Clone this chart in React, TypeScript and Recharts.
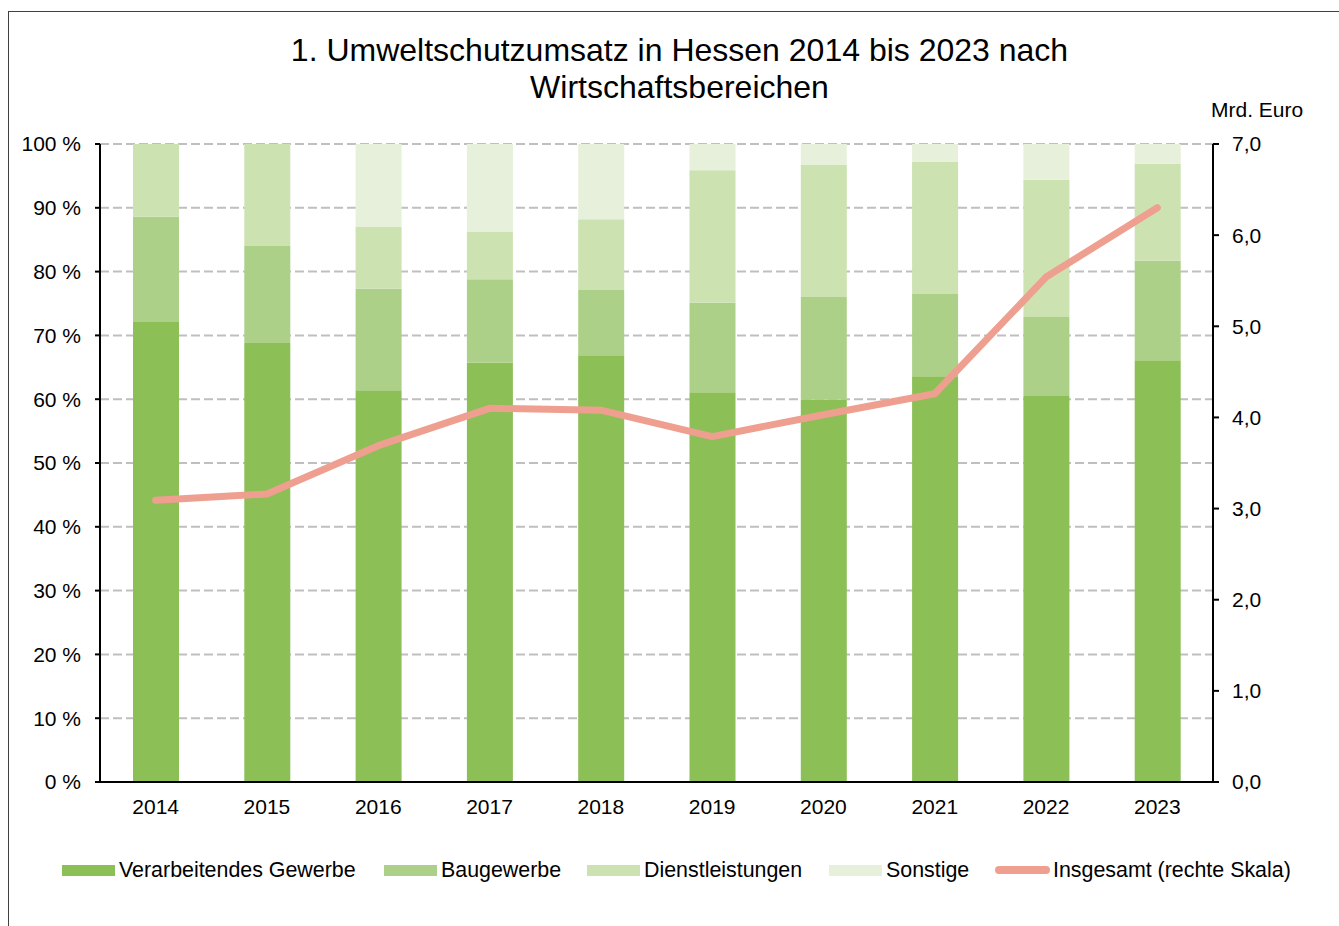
import React from "react";
import { Bar, CartesianGrid, ComposedChart, Line, XAxis, YAxis } from "recharts";

const years = ["2014", "2015", "2016", "2017", "2018", "2019", "2020", "2021", "2022", "2023"];

// shares in percent
const verarbeitendes = [72.1, 68.8, 61.4, 65.7, 66.9, 61.1, 59.9, 63.6, 60.5, 66.1];
const baugewerbe = [16.5, 15.2, 15.9, 13.1, 10.2, 14.0, 16.1, 12.9, 12.4, 15.6];
const dienstleistungen = [11.4, 16.0, 9.7, 7.4, 11.1, 20.8, 20.7, 20.7, 21.5, 15.2];
const sonstige = [0.0, 0.0, 13.0, 13.8, 11.8, 4.1, 3.3, 2.8, 5.6, 3.1];

// total, Mrd. Euro (right scale)
const insgesamt = [3.09, 3.16, 3.69, 4.1, 4.08, 3.79, 4.03, 4.26, 5.54, 6.3];

const percentTicks = [0, 10, 20, 30, 40, 50, 60, 70, 80, 90, 100];
const euroTicks = [0, 1, 2, 3, 4, 5, 6, 7];

const FONT = "'Liberation Sans', Arial, sans-serif";

const barSeries = [
  { key: "verarbeitendes", name: "Verarbeitendes Gewerbe", color: "#8cbf56", legendX: 62 },
  { key: "baugewerbe", name: "Baugewerbe", color: "#acd087", legendX: 384 },
  { key: "dienstleistungen", name: "Dienstleistungen", color: "#cde2b1", legendX: 587 },
  { key: "sonstige", name: "Sonstige", color: "#e6f0db", legendX: 829 },
];
const lineColor = "#ef9f8f";

const chartData = years.map((year, i) => ({
  year,
  verarbeitendes: verarbeitendes[i],
  baugewerbe: baugewerbe[i],
  dienstleistungen: dienstleistungen[i],
  sonstige: sonstige[i],
  insgesamt: insgesamt[i],
}));

const tickStyle = { fill: "#000", fontSize: 21, fontFamily: FONT };

const legendItemStyle: React.CSSProperties = {
  position: "absolute",
  top: 857,
  display: "flex",
  alignItems: "center",
  fontFamily: FONT,
  fontSize: 21.4,
  lineHeight: "26px",
  color: "#000",
  whiteSpace: "nowrap",
};

function LegendRow() {
  return (
    <>
      {barSeries.map((s) => (
        <div key={s.key} style={{ ...legendItemStyle, left: s.legendX }}>
          <span style={{ width: 53, height: 11, background: s.color, marginRight: 4 }} />
          <span>{s.name}</span>
        </div>
      ))}
      <div style={{ ...legendItemStyle, left: 995 }}>
        <span style={{ width: 55, height: 8, borderRadius: 4, background: lineColor, marginRight: 3 }} />
        <span>Insgesamt (rechte Skala)</span>
      </div>
    </>
  );
}

export default function App() {
  return (
    <div
      style={{
        position: "absolute",
        left: 0,
        top: 0,
        width: 1339,
        height: 926,
        overflow: "hidden",
        background: "#fff",
        fontFamily: FONT,
      }}
    >
      <div
        style={{
          position: "absolute",
          left: 8,
          top: 11,
          width: 1400,
          height: 1000,
          border: "1px solid #404040",
        }}
      />
      <div
        style={{
          position: "absolute",
          left: 0,
          top: 32,
          width: 1359,
          textAlign: "center",
          fontSize: 32,
          lineHeight: "37px",
          color: "#000",
        }}
      >
        1. Umweltschutzumsatz in Hessen 2014 bis 2023 nach
        <br />
        Wirtschaftsbereichen
      </div>
      <div style={{ position: "absolute", left: 1211, top: 98, fontSize: 21, lineHeight: "24px", color: "#000" }}>
        Mrd. Euro
      </div>
      <div style={{ position: "absolute", left: 0, top: 0 }}>
        <ComposedChart
          width={1339}
          height={926}
          data={chartData}
          margin={{ top: 144, right: 0, bottom: 114, left: 0 }}
        >
          <CartesianGrid
            vertical={false}
            stroke="#bfbfbf"
            strokeWidth={2}
            strokeDasharray="9 4"
            yAxisId="left"
          />
          <XAxis
            dataKey="year"
            height={30}
            tickLine={false}
            tickMargin={11}
            axisLine={{ stroke: "#000", strokeWidth: 2 }}
            tick={tickStyle}
          />
          <YAxis
            yAxisId="left"
            width={100}
            domain={[0, 100]}
            ticks={percentTicks}
            interval={0}
            tickFormatter={(v) => `${v} %`}
            tickSize={5}
            tickMargin={14}
            tickLine={{ stroke: "#000", strokeWidth: 2 }}
            axisLine={{ stroke: "#000", strokeWidth: 2 }}
            tick={tickStyle}
          />
          <YAxis
            yAxisId="right"
            orientation="right"
            width={126}
            domain={[0, 7]}
            ticks={euroTicks}
            interval={0}
            tickFormatter={(v) => Number(v).toFixed(1).replace(".", ",")}
            tickSize={6}
            tickMargin={13}
            tickLine={{ stroke: "#000", strokeWidth: 2 }}
            axisLine={{ stroke: "#000", strokeWidth: 2 }}
            tick={tickStyle}
          />
          {barSeries.map((s) => (
            <Bar
              key={s.key}
              yAxisId="left"
              dataKey={s.key}
              name={s.name}
              stackId="share"
              fill={s.color}
              barSize={46}
              isAnimationActive={false}
            />
          ))}
          <Line
            yAxisId="right"
            type="linear"
            dataKey="insgesamt"
            name="Insgesamt (rechte Skala)"
            stroke={lineColor}
            strokeWidth={7}
            strokeLinecap="round"
            strokeLinejoin="round"
            dot={false}
            activeDot={false}
            isAnimationActive={false}
          />
        </ComposedChart>
      </div>
      <LegendRow />
    </div>
  );
}
